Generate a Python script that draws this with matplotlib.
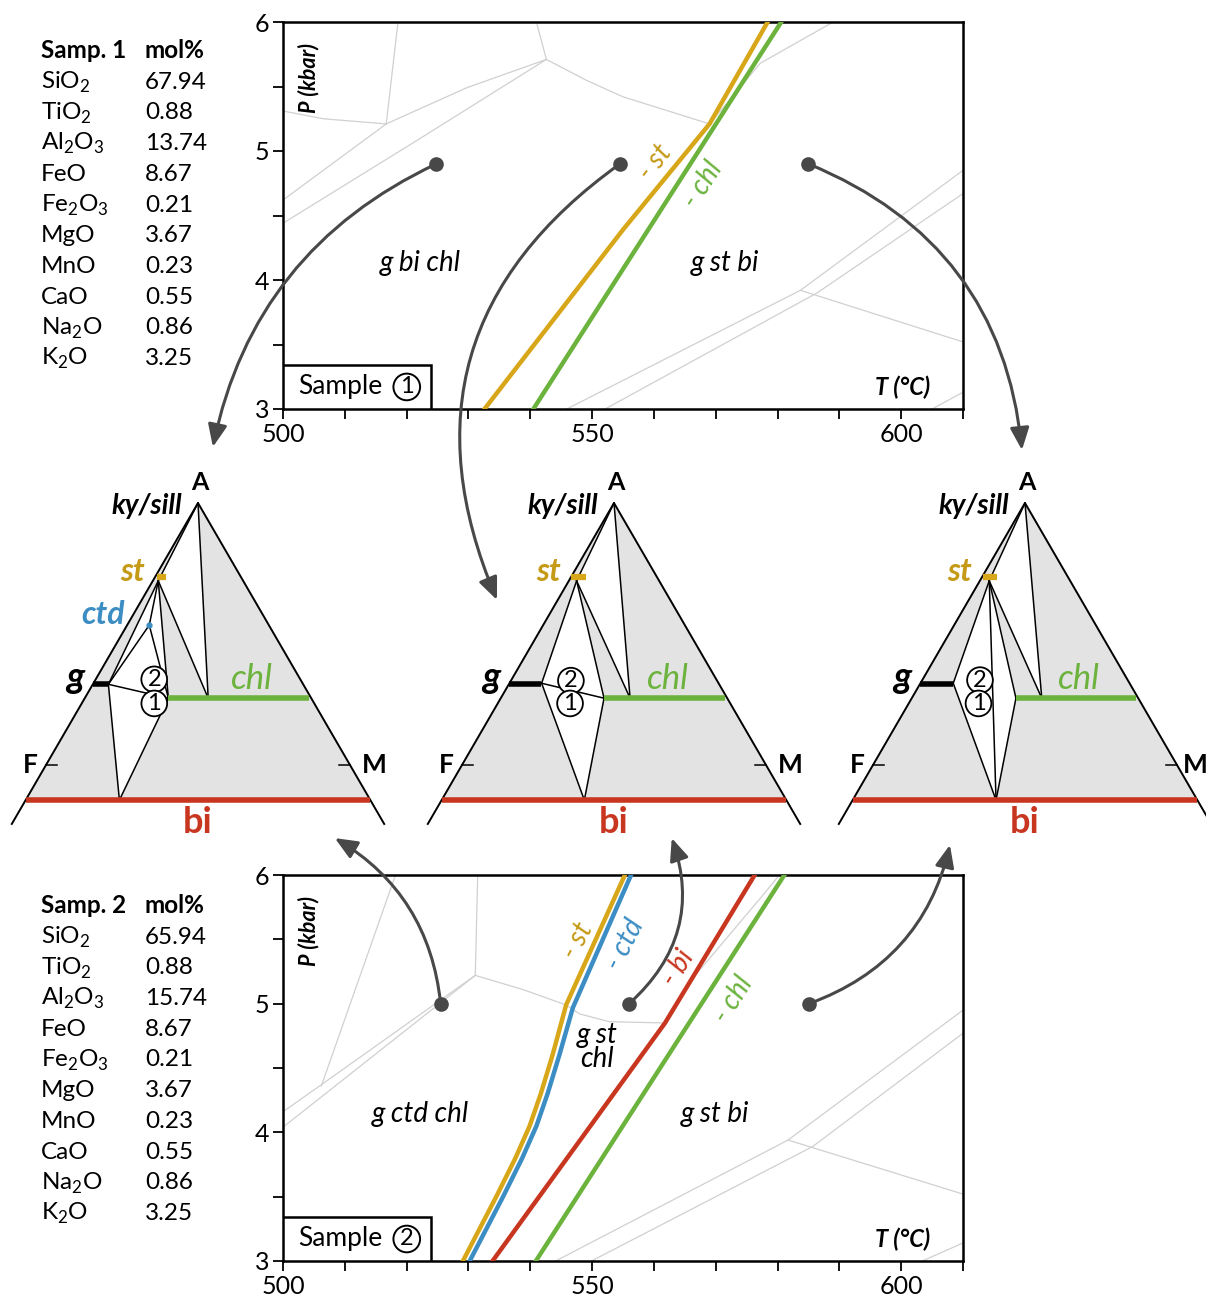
import numpy as np
import matplotlib.pyplot as plt
from matplotlib.patches import Polygon, Rectangle, ConnectionPatch

plt.rcParams['font.family'] = ['Lato', 'DejaVu Sans']
plt.rcParams['mathtext.fontset'] = 'custom'
plt.rcParams['mathtext.rm'] = 'Lato'

# ---- bulk compositions (mol%)
oxides = [r'SiO$_\mathregular{2}$', r'TiO$_\mathregular{2}$', r'Al$_\mathregular{2}$O$_\mathregular{3}$', 'FeO',
          r'Fe$_\mathregular{2}$O$_\mathregular{3}$', 'MgO', 'MnO', 'CaO', r'Na$_\mathregular{2}$O', r'K$_\mathregular{2}$O']
samp1_mol = ['67.94', '0.88', '13.74', '8.67', '0.21', '3.67', '0.23', '0.55', '0.86', '3.25']
samp2_mol = ['65.94', '0.88', '15.74', '8.67', '0.21', '3.67', '0.23', '0.55', '0.86', '3.25']

# ---- P-T section sample 1 (T degC, P kbar)
s1_st_T = [532.6, 555.0, 569.0, 578.4]
s1_st_P = [3.0, 4.39, 5.21, 6.0]
s1_chl_T = [540.5, 580.6]
s1_chl_P = [3.0, 6.0]
s1_grey = [
    ([518.6, 516.7], [6.0, 5.21]),
    ([500, 506.5, 516.7], [5.31, 5.25, 5.21]),
    ([500, 516.7, 529.7, 542.6], [4.62, 5.21, 5.49, 5.71]),
    ([500, 521.6, 542.6], [4.44, 5.08, 5.71]),
    ([541.0, 542.6], [6.0, 5.71]),
    ([542.6, 549, 555, 569], [5.71, 5.55, 5.42, 5.21]),
    ([569, 577.2, 589], [5.21, 5.68, 6.0]),
    ([545.9, 583.7, 610], [3.0, 3.92, 4.85]),
    ([552.1, 586.4, 610], [3.0, 3.90, 4.67]),
    ([583.7, 610], [3.92, 3.52]),
    ([605, 610], [3.0, 3.13]),
]
s1_dots_T = [524.8, 554.5, 585.0]
s1_dots_P = [4.9, 4.9, 4.9]

# ---- P-T section sample 2
s2_st_T = [529.1, 534.5, 537.6, 539.9, 541.7, 543.6, 545.8, 555.3]
s2_st_P = [3.0, 3.5, 3.8, 4.05, 4.3, 4.6, 4.99, 6.0]
s2_ctd_T = [530.2, 535.6, 538.7, 541.0, 542.8, 544.7, 546.9, 556.3]
s2_ctd_P = [3.0, 3.5, 3.8, 4.05, 4.3, 4.6, 4.97, 6.0]
s2_bi_T = [533.9, 561.8, 576.3]
s2_bi_P = [3.0, 4.85, 6.0]
s2_chl_T = [540.9, 581.1]
s2_chl_P = [3.0, 6.0]
s2_grey = [
    ([518.2, 506.2], [6.0, 4.36]),
    ([500, 506.2, 531.1], [4.16, 4.37, 5.22]),
    ([500, 531.1], [4.04, 5.22]),
    ([531.1, 531.5], [5.22, 6.0]),
    ([531.1, 538.8, 545.8], [5.22, 5.11, 4.99]),
    ([545.8, 548, 552.8, 561.8], [4.99, 4.92, 4.86, 4.85]),
    ([561.8, 565.1, 577.4, 580.3], [4.85, 5.13, 5.83, 6.0]),
    ([544.1, 581.7, 610], [3.0, 3.94, 4.95]),
    ([549.9, 585.7, 610], [3.0, 3.89, 4.77]),
    ([581.7, 610], [3.94, 3.52]),
    ([603.4, 610], [3.0, 3.14]),
]
s2_dots_T = [525.5, 556.0, 585.1]
s2_dots_P = [5.0, 5.0, 5.0]

# ---- AFM compatibility diagrams, points as (A, XMg)
st_a, g_a, chl_a, bi_a = 0.716, 0.31, 0.255, -0.134
tri1_pts = {'A': (1, 0.5), 'st': (0.703, 0.06), 'ctd': (0.534, 0.156), 'g': (0.308, 0.074),
            'chlL': (0.255, 0.369), 'chlA': (0.255, 0.545), 'bi': (-0.134, 0.272)}
tri1_ties = [('A', 'st'), ('A', 'chlA'), ('st', 'chlA'), ('st', 'chlL'), ('st', 'g'), ('st', 'ctd'),
             ('g', 'ctd'), ('ctd', 'chlL'), ('g', 'chlL'), ('g', 'bi'), ('chlL', 'bi')]
tri1_fields = [('A', 'st', 'chlA'), ('st', 'ctd', 'chlL'), ('g', 'st', 'ctd'), ('g', 'ctd', 'chlL'), ('g', 'chlL', 'bi')]
tri1_st, tri1_g, tri1_chl = (0.02, 0.13), (0.0, 0.074), (0.369, 0.99)
tri1_circ = [(0.327, 0.286), (0.235, 0.312)]

tri2_pts = {'A': (1, 0.5), 'st': (0.703, 0.086), 'g': (0.312, 0.154),
            'chlL': (0.255, 0.456), 'chlA': (0.255, 0.571), 'bi': (-0.134, 0.414)}
tri2_ties = [('A', 'st'), ('A', 'chlA'), ('st', 'chlA'), ('st', 'chlL'), ('st', 'g'),
             ('g', 'chlL'), ('g', 'bi'), ('chlL', 'bi')]
tri2_fields = [('A', 'st', 'chlA'), ('g', 'st', 'chlL'), ('g', 'chlL', 'bi')]
tri2_st, tri2_g, tri2_chl = (0.0, 0.18), (0.0, 0.154), (0.456, 0.99)
tri2_circ = [(0.322, 0.291), (0.235, 0.311)]

tri3_pts = {'A': (1, 0.5), 'st': (0.703, 0.104), 'g': (0.312, 0.157),
            'chlL': (0.255, 0.46), 'chlA': (0.255, 0.574), 'bi': (-0.134, 0.416)}
tri3_ties = [('A', 'st'), ('A', 'chlA'), ('st', 'chlA'), ('st', 'chlL'), ('st', 'g'), ('st', 'bi'),
             ('g', 'bi'), ('chlL', 'bi')]
tri3_fields = [('A', 'st', 'chlA'), ('g', 'st', 'bi'), ('st', 'chlL', 'bi')]
tri3_st, tri3_g, tri3_chl = (0.017, 0.172), (0.0, 0.157), (0.46, 0.99)
tri3_circ = [(0.324, 0.281), (0.235, 0.30)]

# arrow targets on the diagrams (X, Y in diagram frame)
top_targets = [(0.049, 1.214), (-0.385, 0.63), (-0.01, 1.202)]
bot_targets = [(0.45, -0.279), (0.19, -0.279), (-0.247, -0.305)]
top_rads = [0.25, 0.4, -0.3]
bot_rads = [0.25, 0.33, 0.27]

c_st = '#d8a619'
c_st_txt = '#c49a17'
c_chl = '#6cb33e'
c_ctd = '#3b8dc3'
c_bi = '#c8361f'
c_grey = '#d0d0d0'
c_arr = '#484848'
c_fill = '#e3e3e3'

W, H = 1206, 1302
fig = plt.figure(figsize=(W / 100, H / 100), dpi=100)


def px_axes(x0, y0, x1, y1):
    return fig.add_axes([x0 / W, 1 - y1 / H, (x1 - x0) / W, (y1 - y0) / H])


def pt_panel(ax, grey, curves, labels, fields, dots_T, dots_P, num):
    ax.set_xlim(500, 610)
    ax.set_ylim(3, 6)
    xt = np.arange(500, 611, 10)
    ax.set_xticks(xt)
    ax.set_xticklabels([str(t) if t % 50 == 0 else '' for t in xt])
    yt = [3, 3.5, 4, 4.5, 5, 5.5, 6]
    ax.set_yticks(yt)
    ax.set_yticklabels([str(int(p)) if p == int(p) else '' for p in yt])
    ax.tick_params(direction='out', length=7, width=1.3, labelsize=18, pad=3)
    for s in ax.spines.values():
        s.set_linewidth(1.8)
    for T, P in grey:
        ax.plot(T, P, color=c_grey, lw=0.9, zorder=1)
    for T, P, c in curves:
        ax.plot(T, P, color=c, lw=3.2, zorder=3)
    for s, T, P, c, rot in labels:
        ax.text(T, P, s, color=c, fontsize=20, style='italic', rotation=rot,
                ha='center', va='center', zorder=4)
    for s, T, P in fields:
        ax.text(T, P, s, fontsize=20, style='italic', ha='center', va='center',
                linespacing=0.9, zorder=4)
    ax.plot(dots_T, dots_P, 'o', ms=9.5, color=c_arr, zorder=6, clip_on=False)
    ax.text(0.037, 0.855, 'P (kbar)', transform=ax.transAxes, rotation=90, fontsize=15.5,
            weight='bold', style='italic', ha='center', va='center')
    ax.text(0.952, 0.055, 'T (°C)', transform=ax.transAxes, fontsize=17,
            weight='bold', style='italic', ha='right', va='center')
    ax.add_patch(Rectangle((0, 0), 0.218, 0.114, transform=ax.transAxes, fc='white',
                           ec='black', lw=1.8, zorder=7))
    ax.text(0.084, 0.057, 'Sample', transform=ax.transAxes, fontsize=19,
            ha='center', va='center', zorder=8)
    ax.text(0.182, 0.057, str(num), transform=ax.transAxes, fontsize=17,
            ha='center', va='center', zorder=8,
            bbox=dict(boxstyle='circle,pad=0.12', fc='white', ec='black', lw=1.4))


def tern(a, xm):
    return (xm - 0.5) * (1 - a), a


def afm(ax, pts, ties, fields, st_seg, g_seg, chl_seg, circ, ctd=None, m_x=0.579):
    ax.set_xlim(-0.65, 0.65)
    ax.set_ylim(-0.27, 1.15)
    ax.axis('off')
    ax.add_patch(Polygon([tern(1, 0.5), tern(bi_a, 0), tern(bi_a, 1)], fc=c_fill, ec='none', zorder=0))
    for f in fields:
        ax.add_patch(Polygon([tern(*pts[k]) for k in f], fc='white', ec='none', zorder=1))
    for p, q in ties:
        x0, y0 = tern(*pts[p])
        x1, y1 = tern(*pts[q])
        ax.plot([x0, x1], [y0, y1], color='black', lw=1.1, zorder=2)
    side_a = -0.225
    xs = [tern(side_a, 0)[0], 0, tern(side_a, 1)[0]]
    ax.plot(xs, [side_a, 1, side_a], color='black', lw=1.4, zorder=2)
    ax.plot([-0.5, -0.465], [0, 0], color='black', lw=1.1)
    ax.plot([0.465, 0.5], [0, 0], color='black', lw=1.1)
    for seg, a, c, lw in [(st_seg, st_a, c_st, 4.5), (g_seg, g_a, 'black', 4),
                          (chl_seg, chl_a, c_chl, 4), ((0, 1), bi_a, c_bi, 4)]:
        x0, y0 = tern(a, seg[0])
        x1, y1 = tern(a, seg[1])
        ax.plot([x0, x1], [y0, y1], color=c, lw=lw, zorder=3, solid_capstyle='butt')
    if ctd is not None:
        ax.plot(*tern(*ctd), 'o', ms=3.5, color=c_ctd, zorder=3)
        ax.text(-0.24, 0.575, 'ctd', color=c_ctd, fontsize=23, weight='bold', style='italic',
                ha='right', va='center')
    for k, (a, xm) in enumerate(circ):
        ax.text(*tern(a, xm), str(2 - k), fontsize=17, ha='center', va='center', zorder=5,
                bbox=dict(boxstyle='circle,pad=0.1', fc='white', ec='black', lw=1.3))
    ax.text(0.007, 1.08, 'A', fontsize=18, weight='bold', ha='center', va='center')
    ax.text(-0.052, 0.99, 'ky/sill', fontsize=20, weight='bold', style='italic', ha='right', va='center')
    ax.text(-0.175, 0.737, 'st', color=c_st_txt, fontsize=23, weight='bold', style='italic',
            ha='right', va='center')
    ax.text(-0.375, 0.335, 'g', fontsize=26, weight='bold', style='italic', ha='right', va='center')
    ax.text(0.178, 0.33, 'chl', color=c_chl, fontsize=25, style='italic', ha='center', va='center')
    ax.text(-0.553, 0, 'F', fontsize=19, weight='bold', ha='center', va='center')
    ax.text(m_x, 0, 'M', fontsize=19, weight='bold', ha='center', va='center')
    ax.text(0, -0.22, 'bi', color=c_bi, fontsize=26, weight='bold', ha='center', va='center')


# ---- composition tables
def comp_table(y_head, label, vals):
    fig.text(41 / W, 1 - (y_head + 8) / H, label, fontsize=17.5, weight='bold', va='baseline')
    fig.text(145 / W, 1 - (y_head + 8) / H, 'mol%', fontsize=17.5, weight='bold', va='baseline')
    for i, (ox, v) in enumerate(zip(oxides, vals)):
        yb = y_head + 30.7 * (i + 1) + 8
        fig.text(41 / W, 1 - yb / H, ox, fontsize=17.5, va='baseline')
        fig.text(145 / W, 1 - yb / H, v, fontsize=17.5, va='baseline')


comp_table(50, 'Samp. 1', samp1_mol)
comp_table(905, 'Samp. 2', samp2_mol)

ax_top = px_axes(283, 22, 963, 409)
ax_bot = px_axes(283, 875, 963, 1261)

pt_panel(ax_top, s1_grey,
         [(s1_st_T, s1_st_P, c_st), (s1_chl_T, s1_chl_P, c_chl)],
         [('- st', 560.2, 4.91, c_st_txt, 52), ('- chl', 568.0, 4.74, c_chl, 57)],
         [('g bi chl', 522.2, 4.13), ('g st bi', 571.5, 4.13)],
         s1_dots_T, s1_dots_P, 1)
pt_panel(ax_bot, s2_grey,
         [(s2_st_T, s2_st_P, c_st), (s2_ctd_T, s2_ctd_P, c_ctd),
          (s2_bi_T, s2_bi_P, c_bi), (s2_chl_T, s2_chl_P, c_chl)],
         [('- st', 547.6, 5.49, c_st_txt, 62), ('- ctd', 555.3, 5.46, c_ctd, 63),
          ('- bi', 563.9, 5.28, c_bi, 58), ('- chl', 572.8, 5.03, c_chl, 58)],
         [('g ctd chl', 522.2, 4.14), ('g st\nchl', 550.8, 4.66), ('g st bi', 569.9, 4.14)],
         s2_dots_T, s2_dots_P, 2)

tri_axes = []
for cx in [198, 614, 1025]:
    tri_axes.append(px_axes(cx - 0.65 * 304, 765 - 1.15 * 262, cx + 0.65 * 304, 765 + 0.27 * 262))

afm(tri_axes[0], tri1_pts, tri1_ties, tri1_fields, tri1_st, tri1_g, tri1_chl, tri1_circ,
    ctd=tri1_pts['ctd'])
afm(tri_axes[1], tri2_pts, tri2_ties, tri2_fields, tri2_st, tri2_g, tri2_chl, tri2_circ)
afm(tri_axes[2], tri3_pts, tri3_ties, tri3_fields, tri3_st, tri3_g, tri3_chl, tri3_circ, m_x=0.56)

for ax_pt, dT, dP, targets, rads in [(ax_top, s1_dots_T, s1_dots_P, top_targets, top_rads),
                                     (ax_bot, s2_dots_T, s2_dots_P, bot_targets, bot_rads)]:
    for T, P, tgt, r, axt in zip(dT, dP, targets, rads, tri_axes):
        con = ConnectionPatch(xyA=(T, P), coordsA=ax_pt.transData, xyB=tgt, coordsB=axt.transData,
                              arrowstyle='-|>,head_length=0.75,head_width=0.32',
                              connectionstyle='arc3,rad=%s' % r, color=c_arr, lw=2.2,
                              mutation_scale=18, shrinkA=0, shrinkB=0, zorder=10)
        fig.add_artist(con)

fig.savefig('out.png', dpi=100)
